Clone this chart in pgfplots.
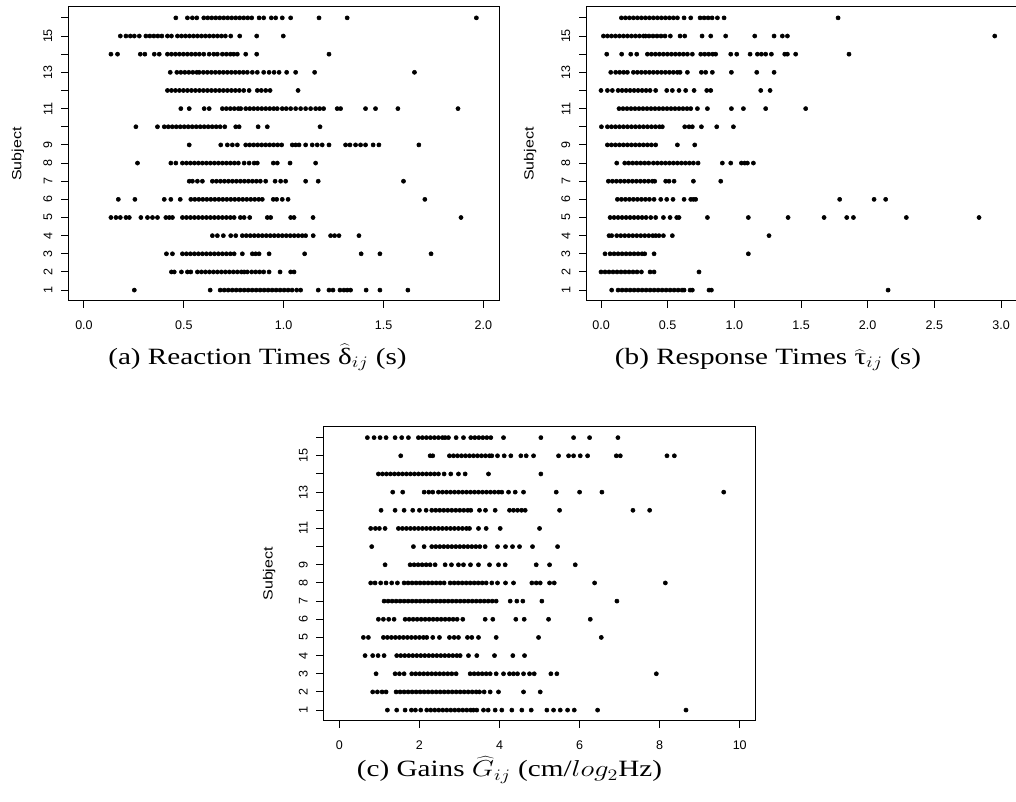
\documentclass[border=0pt]{standalone}
\usepackage{fontspec}
\usepackage{graphicx}
\usepackage{pgfplots}
\pgfplotsset{compat=1.18}
\setmainfont{Liberation Serif}
\newfontfamily\helv{Liberation Sans}

\pgfplotsset{
  stripchart/.style={
    scale only axis,
    anchor=south west,
    axis line style={line width=0.75pt},
    ymin=0.4, ymax=16.6,
    ytick={1,2,3,4,5,6,7,8,9,10,11,12,13,14,15,16},
    yticklabels={1,2,3,4,5,6,7,8,9,,11,,13,,15,},
    tick align=outside,
    tick pos=left,
    major tick length=5.25pt,
    tick style={black, line width=0.75pt},
    ticklabel style={font=\helv\fontsize{9.4}{11}\selectfont, inner sep=0pt},
    xticklabel style={anchor=north},
    yticklabel style={rotate=90, anchor=south},
    xticklabel shift=9.5pt,
    yticklabel shift=6.3pt,
    /pgf/number format/assume math mode=true,
    ylabel={\scalebox{1.2}[1]{Subject}},
    every axis y label/.style={at={(axis description cs:-0.116,0.5)}, rotate=90, anchor=center, font=\helv\fontsize{10}{12}\selectfont},
  },
  dots/.style={only marks, mark=*, mark size=1.55pt, black, mark options={draw=black, fill=black}},
}

\begin{document}
\begin{tikzpicture}
\path[use as bounding box] (0pt,0pt) rectangle (762pt,601.5pt);

% ---------------- (a) Reaction times ----------------
\begin{axis}[stripchart, at={(51pt,375.75pt)}, width=323.5pt, height=220.5pt,
  xmin=-0.08, xmax=2.08, xtick={0,0.5,1,1.5,2},
  xticklabel={\pgfmathprintnumber[fixed,fixed zerofill,precision=1]{\tick}}]
\addplot[dots] coordinates {
(0.46,16)(0.518,16)(0.543,16)(0.565,16)(0.60,16)(0.62,16)(0.64,16)(0.66,16)(0.68,16)(0.70,16)(0.72,16)(0.74,16)(0.76,16)(0.78,16)(0.80,16)(0.82,16)(0.84,16)(0.877,16)(0.90,16)(0.938,16)(0.96,16)(0.993,16)(1.035,16)(1.177,16)(1.318,16)(1.965,16)
(0.182,15)(0.21,15)(0.232,15)(0.252,15)(0.277,15)(0.31,15)(0.33,15)(0.35,15)(0.37,15)(0.39,15)(0.418,15)(0.438,15)(0.468,15)(0.488,15)(0.508,15)(0.528,15)(0.548,15)(0.568,15)(0.588,15)(0.608,15)(0.628,15)(0.648,15)(0.668,15)(0.688,15)(0.708,15)(0.735,15)(0.78,15)(0.865,15)(0.998,15)
(0.135,14)(0.168,14)(0.282,14)(0.305,14)(0.352,14)(0.377,14)(0.418,14)(0.438,14)(0.458,14)(0.478,14)(0.498,14)(0.518,14)(0.538,14)(0.558,14)(0.578,14)(0.60,14)(0.627,14)(0.65,14)(0.668,14)(0.693,14)(0.713,14)(0.733,14)(0.75,14)(0.768,14)(0.81,14)(0.865,14)(1.227,14)
(0.432,13)(0.465,13)(0.485,13)(0.505,13)(0.525,13)(0.545,13)(0.565,13)(0.577,13)(0.598,13)(0.618,13)(0.638,13)(0.658,13)(0.678,13)(0.698,13)(0.718,13)(0.738,13)(0.758,13)(0.778,13)(0.798,13)(0.818,13)(0.843,13)(0.868,13)(0.90,13)(0.927,13)(0.952,13)(0.977,13)(1.015,13)(1.06,13)(1.155,13)(1.655,13)
(0.418,12)(0.438,12)(0.458,12)(0.478,12)(0.498,12)(0.518,12)(0.538,12)(0.558,12)(0.578,12)(0.598,12)(0.618,12)(0.638,12)(0.658,12)(0.678,12)(0.698,12)(0.718,12)(0.738,12)(0.758,12)(0.778,12)(0.80,12)(0.827,12)(0.868,12)(0.888,12)(0.91,12)(0.932,12)(1.072,12)
(0.485,11)(0.527,11)(0.602,11)(0.627,11)(0.693,11)(0.713,11)(0.733,11)(0.753,11)(0.773,11)(0.785,11)(0.81,11)(0.83,11)(0.85,11)(0.87,11)(0.89,11)(0.91,11)(0.93,11)(0.95,11)(0.968,11)(0.993,11)(1.013,11)(1.035,11)(1.06,11)(1.085,11)(1.11,11)(1.135,11)(1.16,11)(1.18,11)(1.20,11)(1.268,11)(1.285,11)(1.41,11)(1.46,11)(1.572,11)(1.873,11)
(0.26,10)(0.368,10)(0.402,10)(0.422,10)(0.442,10)(0.462,10)(0.482,10)(0.502,10)(0.522,10)(0.542,10)(0.562,10)(0.582,10)(0.602,10)(0.622,10)(0.642,10)(0.662,10)(0.682,10)(0.705,10)(0.76,10)(0.777,10)(0.872,10)(0.918,10)(1.182,10)
(0.527,9)(0.685,9)(0.718,9)(0.743,9)(0.768,9)(0.81,9)(0.83,9)(0.85,9)(0.87,9)(0.89,9)(0.91,9)(0.93,9)(0.95,9)(0.97,9)(0.99,9)(1.043,9)(1.06,9)(1.077,9)(1.11,9)(1.143,9)(1.168,9)(1.193,9)(1.227,9)(1.31,9)(1.332,9)(1.36,9)(1.385,9)(1.41,9)(1.448,9)(1.477,9)(1.677,9)
(0.268,8)(0.435,8)(0.46,8)(0.493,8)(0.513,8)(0.533,8)(0.553,8)(0.573,8)(0.593,8)(0.613,8)(0.633,8)(0.653,8)(0.673,8)(0.693,8)(0.713,8)(0.733,8)(0.753,8)(0.773,8)(0.802,8)(0.827,8)(0.852,8)(0.868,8)(0.948,8)(0.968,8)(1.032,8)(1.16,8)
(0.527,7)(0.543,7)(0.568,7)(0.593,7)(0.643,7)(0.663,7)(0.683,7)(0.703,7)(0.723,7)(0.743,7)(0.763,7)(0.783,7)(0.803,7)(0.823,7)(0.843,7)(0.863,7)(0.883,7)(0.91,7)(0.957,7)(0.985,7)(1.01,7)(1.11,7)(1.173,7)(1.60,7)
(0.172,6)(0.255,6)(0.402,6)(0.435,6)(0.482,6)(0.535,6)(0.555,6)(0.575,6)(0.595,6)(0.615,6)(0.635,6)(0.655,6)(0.675,6)(0.695,6)(0.715,6)(0.735,6)(0.755,6)(0.775,6)(0.795,6)(0.815,6)(0.835,6)(0.855,6)(0.875,6)(0.893,6)(0.948,6)(0.965,6)(0.993,6)(1.022,6)(1.707,6)
(0.135,5)(0.16,5)(0.182,5)(0.21,5)(0.227,5)(0.285,5)(0.318,5)(0.343,5)(0.368,5)(0.41,5)(0.427,5)(0.443,5)(0.493,5)(0.513,5)(0.533,5)(0.553,5)(0.573,5)(0.593,5)(0.613,5)(0.633,5)(0.653,5)(0.673,5)(0.693,5)(0.713,5)(0.733,5)(0.752,5)(0.783,5)(0.802,5)(0.83,5)(0.918,5)(0.935,5)(1.035,5)(1.052,5)(1.147,5)(1.888,5)
(0.643,4)(0.668,4)(0.698,4)(0.735,4)(0.76,4)(0.793,4)(0.813,4)(0.833,4)(0.853,4)(0.873,4)(0.893,4)(0.913,4)(0.933,4)(0.953,4)(0.973,4)(0.993,4)(1.013,4)(1.033,4)(1.053,4)(1.073,4)(1.093,4)(1.11,4)(1.148,4)(1.235,4)(1.255,4)(1.277,4)(1.377,4)
(0.413,3)(0.443,3)(0.493,3)(0.513,3)(0.533,3)(0.553,3)(0.573,3)(0.593,3)(0.613,3)(0.633,3)(0.653,3)(0.673,3)(0.693,3)(0.713,3)(0.733,3)(0.752,3)(0.793,3)(0.843,3)(0.86,3)(0.877,3)(0.927,3)(1.105,3)(1.388,3)(1.482,3)(1.738,3)
(0.438,2)(0.452,2)(0.488,2)(0.518,2)(0.535,2)(0.568,2)(0.588,2)(0.608,2)(0.628,2)(0.648,2)(0.668,2)(0.688,2)(0.708,2)(0.728,2)(0.748,2)(0.768,2)(0.788,2)(0.802,2)(0.818,2)(0.84,2)(0.86,2)(0.88,2)(0.90,2)(0.927,2)(0.982,2)(1.035,2)(1.052,2)
(0.252,1)(0.632,1)(0.682,1)(0.702,1)(0.722,1)(0.742,1)(0.762,1)(0.782,1)(0.802,1)(0.822,1)(0.842,1)(0.862,1)(0.882,1)(0.902,1)(0.922,1)(0.942,1)(0.962,1)(0.982,1)(1.002,1)(1.022,1)(1.042,1)(1.065,1)(1.085,1)(1.173,1)(1.227,1)(1.247,1)(1.282,1)(1.302,1)(1.318,1)(1.335,1)(1.413,1)(1.482,1)(1.622,1)
};
\end{axis}

% ---------------- (b) Response times ----------------
\begin{axis}[stripchart, at={(439.5pt,375.75pt)}, width=324.75pt, height=220.5pt,
  xmin=-0.1125, xmax=3.135, xtick={0,0.5,1,1.5,2,2.5,3},
  every axis y label/.style={at={(axis description cs:-0.129,0.5)}, rotate=90, anchor=center, font=\helv\fontsize{10}{12}\selectfont},
  xticklabel={\pgfmathprintnumber[fixed,fixed zerofill,precision=1]{\tick}}]
\addplot[dots] coordinates {
(0.153,16)(0.183,16)(0.213,16)(0.243,16)(0.273,16)(0.303,16)(0.333,16)(0.363,16)(0.393,16)(0.423,16)(0.453,16)(0.483,16)(0.513,16)(0.543,16)(0.573,16)(0.623,16)(0.673,16)(0.743,16)(0.773,16)(0.803,16)(0.833,16)(0.873,16)(0.923,16)(1.778,16)
(0.018,15)(0.048,15)(0.078,15)(0.108,15)(0.138,15)(0.168,15)(0.198,15)(0.228,15)(0.258,15)(0.288,15)(0.318,15)(0.335,15)(0.36,15)(0.39,15)(0.42,15)(0.45,15)(0.48,15)(0.52,15)(0.593,15)(0.628,15)(0.758,15)(0.823,15)(0.935,15)(1.153,15)(1.298,15)(1.36,15)(1.398,15)(2.953,15)
(0.043,14)(0.155,14)(0.223,14)(0.268,14)(0.348,14)(0.378,14)(0.408,14)(0.438,14)(0.468,14)(0.498,14)(0.528,14)(0.558,14)(0.588,14)(0.618,14)(0.648,14)(0.685,14)(0.748,14)(0.778,14)(0.808,14)(0.838,14)(0.86,14)(0.973,14)(1.018,14)(1.118,14)(1.173,14)(1.203,14)(1.235,14)(1.278,14)(1.378,14)(1.398,14)(1.46,14)(1.86,14)
(0.073,13)(0.11,13)(0.14,13)(0.17,13)(0.198,13)(0.243,13)(0.273,13)(0.303,13)(0.333,13)(0.363,13)(0.393,13)(0.423,13)(0.453,13)(0.483,13)(0.513,13)(0.543,13)(0.573,13)(0.593,13)(0.648,13)(0.753,13)(0.785,13)(0.835,13)(0.978,13)(1.168,13)(1.298,13)
(0.0,12)(0.048,12)(0.085,12)(0.128,12)(0.158,12)(0.188,12)(0.218,12)(0.248,12)(0.278,12)(0.308,12)(0.338,12)(0.368,12)(0.41,12)(0.493,12)(0.535,12)(0.585,12)(0.635,12)(0.698,12)(0.793,12)(0.823,12)(1.198,12)(1.268,12)
(0.135,11)(0.165,11)(0.195,11)(0.225,11)(0.255,11)(0.285,11)(0.315,11)(0.345,11)(0.375,11)(0.405,11)(0.435,11)(0.465,11)(0.495,11)(0.525,11)(0.555,11)(0.585,11)(0.615,11)(0.645,11)(0.673,11)(0.723,11)(0.798,11)(0.978,11)(1.068,11)(1.235,11)(1.535,11)
(0.003,10)(0.048,10)(0.078,10)(0.108,10)(0.138,10)(0.168,10)(0.198,10)(0.228,10)(0.258,10)(0.288,10)(0.318,10)(0.348,10)(0.378,10)(0.408,10)(0.438,10)(0.46,10)(0.628,10)(0.66,10)(0.685,10)(0.753,10)(0.868,10)(0.993,10)
(0.048,9)(0.078,9)(0.108,9)(0.138,9)(0.168,9)(0.198,9)(0.228,9)(0.258,9)(0.288,9)(0.318,9)(0.348,9)(0.378,9)(0.41,9)(0.573,9)(0.703,9)
(0.118,8)(0.178,8)(0.208,8)(0.238,8)(0.268,8)(0.298,8)(0.328,8)(0.358,8)(0.393,8)(0.423,8)(0.453,8)(0.483,8)(0.513,8)(0.543,8)(0.573,8)(0.603,8)(0.633,8)(0.663,8)(0.693,8)(0.728,8)(0.91,8)(0.973,8)(1.053,8)(1.078,8)(1.098,8)(1.143,8)
(0.055,7)(0.085,7)(0.115,7)(0.145,7)(0.175,7)(0.205,7)(0.235,7)(0.265,7)(0.295,7)(0.325,7)(0.355,7)(0.385,7)(0.403,7)(0.485,7)(0.51,7)(0.548,7)(0.693,7)(0.898,7)
(0.123,6)(0.153,6)(0.183,6)(0.213,6)(0.243,6)(0.273,6)(0.303,6)(0.333,6)(0.363,6)(0.398,6)(0.448,6)(0.493,6)(0.54,6)(0.623,6)(0.673,6)(0.693,6)(0.71,6)(1.79,6)(2.048,6)(2.135,6)
(0.068,5)(0.098,5)(0.128,5)(0.158,5)(0.188,5)(0.218,5)(0.248,5)(0.278,5)(0.308,5)(0.338,5)(0.373,5)(0.41,5)(0.468,5)(0.518,5)(0.568,5)(0.585,5)(0.798,5)(1.105,5)(1.403,5)(1.673,5)(1.843,5)(1.893,5)(2.29,5)(2.835,5)
(0.06,4)(0.08,4)(0.118,4)(0.148,4)(0.178,4)(0.208,4)(0.238,4)(0.268,4)(0.298,4)(0.328,4)(0.358,4)(0.388,4)(0.41,4)(0.435,4)(0.468,4)(0.535,4)(1.26,4)
(0.03,3)(0.068,3)(0.098,3)(0.128,3)(0.158,3)(0.188,3)(0.218,3)(0.248,3)(0.278,3)(0.308,3)(0.328,3)(0.398,3)(1.105,3)
(0.0,2)(0.03,2)(0.06,2)(0.09,2)(0.12,2)(0.15,2)(0.18,2)(0.21,2)(0.24,2)(0.27,2)(0.303,2)(0.368,2)(0.398,2)(0.735,2)
(0.08,1)(0.128,1)(0.158,1)(0.188,1)(0.218,1)(0.248,1)(0.278,1)(0.308,1)(0.338,1)(0.368,1)(0.398,1)(0.428,1)(0.458,1)(0.488,1)(0.518,1)(0.548,1)(0.578,1)(0.608,1)(0.623,1)(0.668,1)(0.685,1)(0.81,1)(0.828,1)(2.153,1)
};
\end{axis}

% ---------------- (c) Gains ----------------
\begin{axis}[stripchart, at={(242.5pt,60.75pt)}, width=324.3pt, height=220.7pt,
  xmin=-0.4, xmax=10.4, xtick={0,2,4,6,8,10},
  every axis y label/.style={at={(axis description cs:-0.125,0.5)}, rotate=90, anchor=center, font=\helv\fontsize{10}{12}\selectfont}]
\addplot[dots] coordinates {
(0.70,16)(0.867,16)(1.017,16)(1.167,16)(1.392,16)(1.558,16)(1.725,16)(1.975,16)(2.075,16)(2.175,16)(2.275,16)(2.375,16)(2.475,16)(2.575,16)(2.642,16)(2.725,16)(2.917,16)(3.1,16)(3.283,16)(3.383,16)(3.483,16)(3.583,16)(3.683,16)(3.783,16)(4.1,16)(5.033,16)(5.85,16)(6.25,16)(6.958,16)
(1.533,15)(2.267,15)(2.333,15)(2.75,15)(2.85,15)(2.95,15)(3.05,15)(3.15,15)(3.25,15)(3.35,15)(3.45,15)(3.55,15)(3.65,15)(3.75,15)(3.808,15)(3.95,15)(4.117,15)(4.283,15)(4.533,15)(4.667,15)(4.85,15)(5.475,15)(5.725,15)(5.85,15)(6.017,15)(6.2,15)(6.917,15)(7.017,15)(8.183,15)(8.367,15)
(0.975,14)(1.075,14)(1.175,14)(1.275,14)(1.375,14)(1.475,14)(1.575,14)(1.675,14)(1.775,14)(1.875,14)(1.975,14)(2.075,14)(2.175,14)(2.275,14)(2.375,14)(2.475,14)(2.617,14)(2.783,14)(2.975,14)(3.142,14)(3.725,14)(5.033,14)
(1.333,13)(1.583,13)(2.117,13)(2.233,13)(2.333,13)(2.475,13)(2.575,13)(2.675,13)(2.775,13)(2.875,13)(2.975,13)(3.075,13)(3.175,13)(3.275,13)(3.375,13)(3.475,13)(3.575,13)(3.675,13)(3.775,13)(3.875,13)(3.975,13)(4.058,13)(4.225,13)(4.392,13)(4.6,13)(5.417,13)(6.0,13)(6.558,13)(9.6,13)
(1.042,12)(1.392,12)(1.617,12)(1.833,12)(2.0,12)(2.167,12)(2.308,12)(2.408,12)(2.508,12)(2.608,12)(2.708,12)(2.808,12)(2.908,12)(3.008,12)(3.108,12)(3.208,12)(3.283,12)(3.5,12)(3.65,12)(3.892,12)(4.25,12)(4.35,12)(4.45,12)(4.55,12)(4.642,12)(5.5,12)(7.333,12)(7.75,12)
(0.783,11)(0.9,11)(1.0,11)(1.142,11)(1.475,11)(1.575,11)(1.675,11)(1.775,11)(1.875,11)(1.975,11)(2.075,11)(2.175,11)(2.275,11)(2.375,11)(2.475,11)(2.575,11)(2.675,11)(2.775,11)(2.875,11)(2.975,11)(3.075,11)(3.175,11)(3.25,11)(3.475,11)(3.667,11)(4.017,11)(5.0,11)
(0.808,10)(1.85,10)(2.117,10)(2.308,10)(2.408,10)(2.508,10)(2.608,10)(2.708,10)(2.808,10)(2.908,10)(3.008,10)(3.108,10)(3.208,10)(3.308,10)(3.408,10)(3.508,10)(3.642,10)(3.95,10)(4.15,10)(4.325,10)(4.5,10)(4.825,10)(5.45,10)
(1.142,9)(1.767,9)(1.867,9)(1.967,9)(2.067,9)(2.167,9)(2.267,9)(2.392,9)(2.642,9)(2.8,9)(2.975,9)(3.1,9)(3.275,9)(3.475,9)(3.75,9)(3.975,9)(4.142,9)(4.917,9)(5.25,9)(5.892,9)
(0.783,8)(0.892,8)(1.033,8)(1.167,8)(1.308,8)(1.45,8)(1.617,8)(1.717,8)(1.817,8)(1.917,8)(2.017,8)(2.117,8)(2.217,8)(2.317,8)(2.417,8)(2.517,8)(2.617,8)(2.767,8)(2.867,8)(2.967,8)(3.067,8)(3.167,8)(3.267,8)(3.367,8)(3.467,8)(3.567,8)(3.667,8)(3.808,8)(3.95,8)(4.15,8)(4.35,8)(4.808,8)(4.917,8)(5.017,8)(5.25,8)(5.367,8)(6.375,8)(8.142,8)
(1.117,7)(1.217,7)(1.317,7)(1.417,7)(1.517,7)(1.617,7)(1.717,7)(1.817,7)(1.917,7)(2.017,7)(2.117,7)(2.217,7)(2.317,7)(2.417,7)(2.517,7)(2.617,7)(2.717,7)(2.817,7)(2.917,7)(3.017,7)(3.117,7)(3.217,7)(3.317,7)(3.417,7)(3.517,7)(3.617,7)(3.717,7)(3.817,7)(3.917,7)(4.267,7)(4.433,7)(4.583,7)(5.058,7)(6.933,7)
(0.975,6)(1.1,6)(1.233,6)(1.367,6)(1.642,6)(1.742,6)(1.842,6)(1.942,6)(2.042,6)(2.142,6)(2.242,6)(2.342,6)(2.442,6)(2.542,6)(2.642,6)(2.742,6)(2.842,6)(2.942,6)(3.083,6)(3.642,6)(3.833,6)(4.408,6)(4.617,6)(5.225,6)(6.267,6)
(0.6,5)(0.725,5)(1.1,5)(1.2,5)(1.3,5)(1.4,5)(1.5,5)(1.6,5)(1.7,5)(1.8,5)(1.9,5)(2.0,5)(2.1,5)(2.183,5)(2.333,5)(2.5,5)(2.75,5)(2.867,5)(2.975,5)(3.2,5)(3.308,5)(3.475,5)(3.917,5)(4.975,5)(6.542,5)
(0.642,4)(0.833,4)(0.967,4)(1.117,4)(1.433,4)(1.533,4)(1.633,4)(1.733,4)(1.833,4)(1.933,4)(2.033,4)(2.133,4)(2.233,4)(2.333,4)(2.433,4)(2.533,4)(2.633,4)(2.733,4)(2.833,4)(2.933,4)(3.017,4)(3.225,4)(3.433,4)(3.875,4)(4.333,4)(4.625,4)
(0.917,3)(1.392,3)(1.5,3)(1.617,3)(1.808,3)(1.908,3)(2.008,3)(2.108,3)(2.208,3)(2.308,3)(2.408,3)(2.508,3)(2.608,3)(2.708,3)(2.808,3)(2.917,3)(3.267,3)(3.367,3)(3.467,3)(3.567,3)(3.667,3)(3.767,3)(3.917,3)(4.1,3)(4.25,3)(4.35,3)(4.45,3)(4.6,3)(4.75,3)(4.867,3)(5.283,3)(5.433,3)(7.917,3)
(0.833,2)(0.95,2)(1.067,2)(1.167,2)(1.417,2)(1.517,2)(1.617,2)(1.717,2)(1.817,2)(1.917,2)(2.017,2)(2.117,2)(2.217,2)(2.317,2)(2.417,2)(2.517,2)(2.617,2)(2.717,2)(2.817,2)(2.917,2)(3.017,2)(3.117,2)(3.217,2)(3.317,2)(3.417,2)(3.5,2)(3.617,2)(3.767,2)(3.975,2)(4.6,2)(5.017,2)
(1.2,1)(1.433,1)(1.642,1)(1.8,1)(1.9,1)(2.033,1)(2.183,1)(2.283,1)(2.383,1)(2.483,1)(2.583,1)(2.683,1)(2.783,1)(2.883,1)(2.983,1)(3.083,1)(3.183,1)(3.283,1)(3.35,1)(3.433,1)(3.6,1)(3.717,1)(3.892,1)(4.058,1)(4.308,1)(4.558,1)(4.792,1)(5.183,1)(5.35,1)(5.517,1)(5.7,1)(5.867,1)(6.45,1)(8.658,1)
};
\end{axis}

% captions
\node[anchor=base, xscale=1.25, font=\fontsize{17.5}{21}\selectfont] at (193.1pt,328.3pt) {(a) Reaction Times $\widehat{\mbox{δ}}_{ij}$ (s)};
\node[anchor=base, xscale=1.25, font=\fontsize{17.5}{21}\selectfont] at (576pt,328.3pt) {(b) Response Times $\widehat{\mbox{τ}}_{ij}$ (s)};
\node[anchor=base, xscale=1.25, font=\fontsize{17.5}{21}\selectfont] at (382.1pt,19pt) {(c) Gains $\widehat{G}_{ij}$ (cm/$log_2$Hz)};
\end{tikzpicture}
\end{document}
